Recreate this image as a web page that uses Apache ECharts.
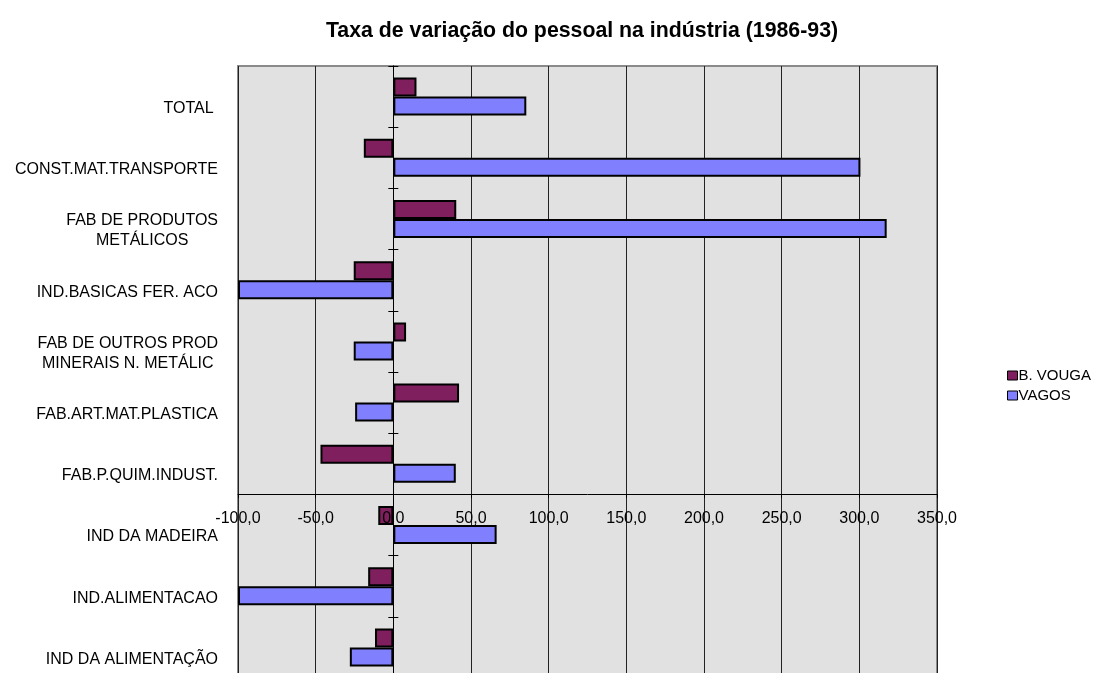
<!DOCTYPE html>
<html>
<head>
<meta charset="utf-8">
<script src="https://cdn.jsdelivr.net/npm/echarts@6/dist/echarts.min.js"></script>
<style>
  html, body { margin: 0; padding: 0; background: #fff; }
  #chart { width: 1097px; height: 673px; }
</style>
</head>
<body>
<div id="chart"></div>
<script>
// categorias (de cima para baixo)
const categorias = [
  'TOTAL ',
  'CONST.MAT.TRANSPORTE',
  'FAB DE PRODUTOS\nMETÁLICOS',
  'IND.BASICAS FER. ACO',
  'FAB DE OUTROS PROD\nMINERAIS N. METÁLIC',
  'FAB.ART.MAT.PLASTICA',
  'FAB.P.QUIM.INDUST.',
  'IND DA MADEIRA',
  'IND.ALIMENTACAO',
  'IND DA ALIMENTAÇÃO'
];
const bVouga = [14.9, -19.0, 40.5, -25.5, 8.2, 42.3, -46.9, -9.7, -16.2, -11.8];
const vagos = [85.6, 300.7, 317.6, -100, -25.5, -24.6, 40.2, 66.5, -100, -28.0];
const eixoMin = -100, eixoMax = 350, eixoPasso = 50;

const fonte = 'Liberation Sans, Arial, sans-serif';
const chart = echarts.init(document.getElementById('chart'));

const option = {
  animation: false,
  title: {
    text: 'Taxa de variação do pessoal na indústria (1986-93)',
    left: 577,
    textAlign: 'center',
    top: 16,
    textStyle: { fontFamily: fonte, fontSize: 21.3, fontWeight: 'bold', color: '#000' }
  },
  legend: {
    orient: 'vertical',
    left: 1002,
    top: 363,
    itemWidth: 10,
    itemHeight: 9,
    itemGap: 5,
    icon: 'rect',
    itemStyle: { borderColor: '#000', borderWidth: 1 },
    textStyle: { fontFamily: fonte, fontSize: 15, color: '#000', padding: [0, 0, 0, -4] },
    data: ['B. VOUGA', 'VAGOS']
  },
  grid: {
    left: 238, right: 160, top: 66, height: 612,
    outerBoundsMode: 'none',
    show: true,
    backgroundColor: '#e1e1e1',
    borderColor: '#8a8a8a',
    borderWidth: 2
  },
  xAxis: [
    {
      type: 'value', min: eixoMin, max: eixoMax, interval: eixoPasso,
      axisLine: { show: false }, axisTick: { show: false }, axisLabel: { show: false },
      splitLine: { show: true, lineStyle: { color: '#222', width: 1 } }
    },
    {
      type: 'value', min: eixoMin, max: eixoMax, interval: eixoPasso,
      position: 'bottom',
      offset: -184,
      z: 5,
      splitLine: { show: false },
      axisLine: { show: true, onZero: false, lineStyle: { color: '#000', width: 1 } },
      axisTick: { show: true, length: 4, lineStyle: { color: '#000' } },
      axisLabel: {
        margin: 17,
        fontFamily: fonte, fontSize: 16, color: '#000',
        formatter: v => v.toFixed(1).replace('.', ',')
      }
    }
  ],
  yAxis: [
    {
      type: 'category', inverse: true, data: categorias,
      axisLine: { show: false, onZero: false }, axisTick: { show: false },
      axisLabel: {
        margin: 20,
        fontFamily: fonte, fontSize: 16, color: '#000',
        padding: [24, 0, 0, 0],
        formatter: v => v.split('\n').map(l => '{c|' + l + '}').join('\n'),
        rich: { c: { align: 'center', fontFamily: fonte, fontSize: 16, color: '#000', lineHeight: 20 } }
      }
    },
    {
      type: 'category', inverse: true, data: categorias,
      axisLine: { show: true, onZero: true, onZeroAxisIndex: 0, lineStyle: { color: '#000', width: 1 } },
      axisTick: { show: true, length: 5, lineStyle: { color: '#000' } },
      axisLabel: { show: false }
    },
    {
      type: 'category', inverse: true, data: categorias,
      axisLine: { show: true, onZero: true, onZeroAxisIndex: 0, lineStyle: { color: '#000', width: 1 } },
      axisTick: { show: true, inside: true, length: 5, lineStyle: { color: '#000' } },
      axisLabel: { show: false }
    }
  ],
  series: [
    {
      name: 'B. VOUGA', type: 'bar', xAxisIndex: 0, yAxisIndex: 0,
      data: bVouga, barWidth: 19, barGap: '0%',
      itemStyle: { color: '#801f5e', borderColor: '#000', borderWidth: 2 }
    },
    {
      name: 'VAGOS', type: 'bar', xAxisIndex: 0, yAxisIndex: 0,
      data: vagos, barWidth: 19, barGap: '0%',
      itemStyle: { color: '#8080ff', borderColor: '#000', borderWidth: 2 }
    }
  ]
};
chart.setOption(option);
</script>
</body>
</html>
